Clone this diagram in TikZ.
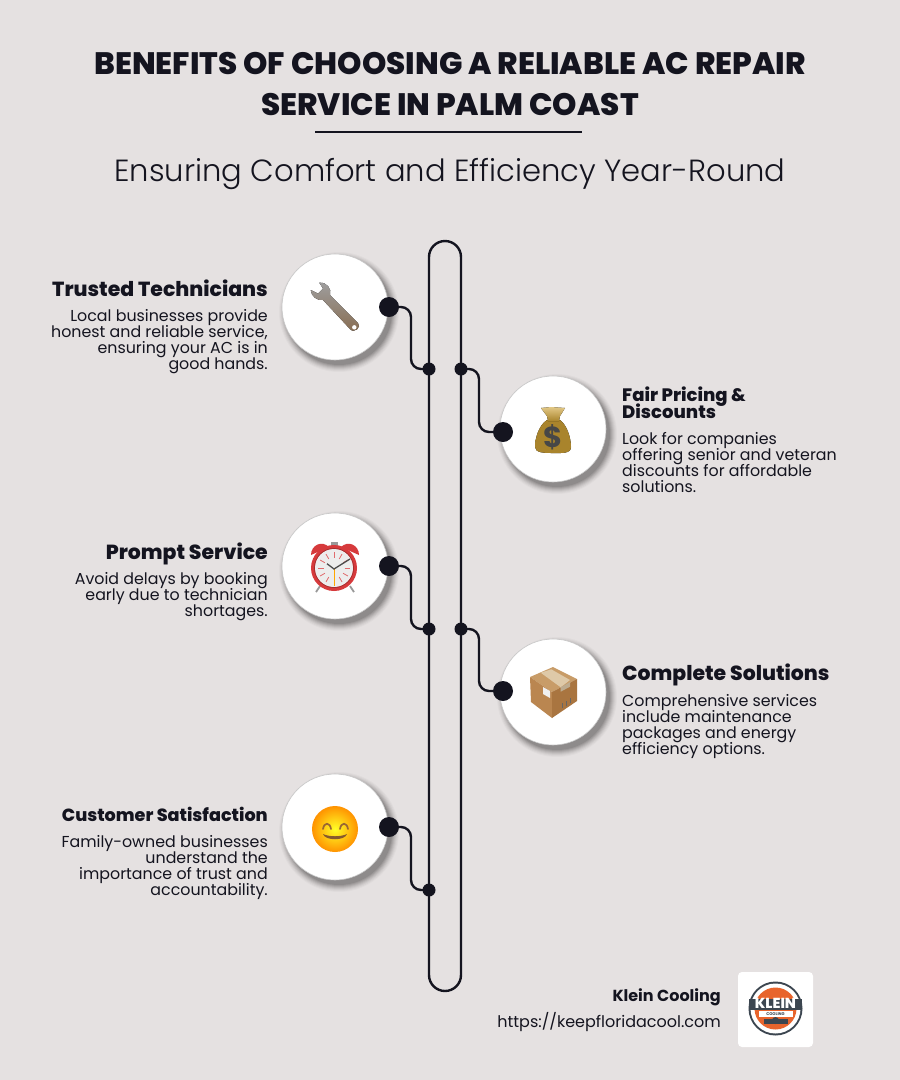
\documentclass[tikz,border=0pt]{standalone}
\usepackage{fontspec}
\usetikzlibrary{positioning}
\setmainfont{Poppins}
\newfontfamily\heavyfont{Poppins ExtraBold}
\newfontfamily\lightfont{Poppins Light}
\definecolor{paper}{HTML}{E5E1E1}
\definecolor{ink}{HTML}{14141F}
\definecolor{logoorange}{HTML}{E8642C}
\definecolor{logodark}{HTML}{3C4650}
\definecolor{bagmid}{HTML}{D6B052}
\definecolor{bagedge}{HTML}{A9842C}
\definecolor{clockred}{HTML}{D63A3C}
\definecolor{boxtop}{HTML}{C89C68}
\definecolor{boxleft}{HTML}{BA8650}
\definecolor{boxright}{HTML}{A97540}
\definecolor{boxtape}{HTML}{DEC9A8}

% keeps the line pitch even
\newcommand{\tightlines}{\lineskiplimit=-100pt\relax}

% white disc with a soft shadow under it
\newcommand{\iconbase}[2]{
    \foreach \r/\o in {60/.025,59/.03,58/.04,57/.05,56/.06,55/.07,54/.08,53/.09}
        \fill[black,opacity=\o] ([shift={(4,5)}]#2) circle (\r);
    \node (#1) [bubble] at (#2) {};
}

\begin{document}
\begin{tikzpicture}[x=1pt,y=-1pt,
    bubble/.style={circle,fill=white,draw=black!22,line width=.6pt,minimum size=106pt,inner sep=0pt},
    hub/.style={circle,fill=ink,minimum size=20pt,inner sep=0pt},
    knot/.style={circle,fill=ink,minimum size=13pt,inner sep=0pt},
    wire/.style={draw=ink,line width=2.4pt,rounded corners=10pt},
    headline/.style={font=\heavyfont\fontsize{20.4}{17}\selectfont\tightlines,text=ink,inner sep=0pt},
    blurb/.style={font=\fontsize{15.85}{16}\selectfont\tightlines,text=ink,inner sep=0pt},
    lefttext/.style={anchor=north east,align=right},
    righttext/.style={anchor=north west,align=left}]

    \fill[paper] (0,0) rectangle (900,1080);
    \useasboundingbox (0,0) rectangle (900,1080);

    % title
    \node (title) [font=\heavyfont\fontsize{31}{41}\selectfont,text=ink,align=center,inner sep=0pt,anchor=north]
        at (450,52) {BENEFITS OF CHOOSING A RELIABLE AC REPAIR\\SERVICE IN PALM COAST};
    \coordinate (ruleleft) at (315,132);
    \coordinate (ruleright) at (582,132);
    \draw[ink,line width=2pt] (ruleleft) -- (ruleright);
    \node (subtitle) [font=\lightfont\fontsize{30.6}{36}\selectfont,text=ink,inner sep=0pt] at (450,174)
        {Ensuring Comfort and Efficiency Year-Round};

    % rail
    \node (rail) [draw=ink,line width=2.4pt,rounded corners=16pt,minimum width=32pt,minimum height=750pt,inner sep=0pt] at (445,616) {};

    % discs
    \iconbase{tech}{335,307}
    \iconbase{price}{553,429}
    \iconbase{prompt}{335,566}
    \iconbase{solve}{553,692}
    \iconbase{happy}{335,827}

    % dots
    \node (techhub) [hub] at (389,307) {};
    \node (pricehub) [hub] at (503,432) {};
    \node (prompthub) [hub] at (389,566) {};
    \node (solvehub) [hub] at (503,691) {};
    \node (happyhub) [hub] at (389,827) {};
    \node (techknot) [knot] at (429,369) {};
    \node (priceknot) [knot] at (461,369) {};
    \node (promptknot) [knot] at (429,629) {};
    \node (solveknot) [knot] at (461,629) {};
    \node (happyknot) [knot] at (429,890) {};

    \coordinate (lbend) at (411,0);
    \coordinate (rbend) at (479,0);
    \draw[wire] (techhub.center) -- (techhub.center -| lbend) -- (techknot.center -| lbend) -- (techknot.center);
    \draw[wire] (priceknot.center) -- (priceknot.center -| rbend) -- (pricehub.center -| rbend) -- (pricehub.center);
    \draw[wire] (prompthub.center) -- (prompthub.center -| lbend) -- (promptknot.center -| lbend) -- (promptknot.center);
    \draw[wire] (solveknot.center) -- (solveknot.center -| rbend) -- (solvehub.center -| rbend) -- (solvehub.center);
    \draw[wire] (happyhub.center) -- (happyhub.center -| lbend) -- (happyknot.center -| lbend) -- (happyknot.center);

    % left column
    \node (techhead) [headline,anchor=east] at (268,288.5) {Trusted Technicians};
    \node (techtext) [blurb,lefttext] at (268,309.5) {Local businesses provide\\honest and reliable service,\\ensuring your AC is in\\good hands.};
    \node (prompthead) [headline,anchor=east] at (268,553.5) {Prompt Service};
    \node (prompttext) [blurb,lefttext] at (268,572.5) {Avoid delays by booking\\early due to technician\\shortages.};
    \node (happyhead) [headline,anchor=east,font=\heavyfont\fontsize{17.6}{17}\selectfont] at (268,814) {Customer Satisfaction};
    \node (happytext) [blurb,lefttext] at (268,835.5) {Family-owned businesses\\understand the\\importance of trust and\\accountability.};

    % right column
    \node (pricehead) [headline,righttext,font=\heavyfont\fontsize{18}{17}\selectfont\tightlines] at (622,387) {Fair Pricing \&\\Discounts};
    \node (pricetext) [blurb,righttext] at (622,432) {Look for companies\\offering senior and veteran\\discounts for affordable\\solutions.};
    \node (solvehead) [headline,anchor=west] at (622,674.5) {Complete Solutions};
    \node (solvetext) [blurb,righttext] at (622,694.5) {Comprehensive services\\include maintenance\\packages and energy\\efficiency options.};

    % wrench
    \begin{scope}[shift={(tech.center)}]
        \fill[top color=black!38,bottom color=brown!55!black!80] (-24.3,-17) .. controls (-24,-11) and (-18,-6) .. (-12,-7)
            -- (15,22) .. controls (19,27) and (27,20) .. (23,16) -- (-5,-12)
            .. controls (-3,-18) and (-8,-25) .. (-15.7,-24.3) -- (-12,-18.5) -- (-17,-13.5) -- cycle;
        \fill[white] (19.3,20.3) circle (2.2);
    \end{scope}

    % money bag
    \begin{scope}[shift={(price.center)}]
        \fill[left color=bagedge,middle color=bagmid,right color=bagedge] (-6,-9) .. controls (-14,-4) and (-18,9) .. (-18,18)
            .. controls (-18,24) and (-8,24) .. (0,24) .. controls (8,24) and (18,25) .. (18,18)
            .. controls (18,9) and (14,-4) .. (7,-9) -- cycle;
        \fill[top color=bagmid!70!white,bottom color=bagedge] (-12,-21) -- (-2,-22) -- (12,-21) -- (7,-13) -- (6,-8) -- (-5,-8) -- (-6,-13) -- cycle;
        \node (dollar) [font=\bfseries\fontsize{29}{29}\selectfont,text=black!72,inner sep=0pt] at (0,8) {\$};
    \end{scope}

    % clock
    \begin{scope}[shift={(prompt.center)}]
        \draw[black!40,line width=1.8pt] (-15,20) -- (-19,26) (15,20) -- (19,26);
        \fill[black!40] (-4,-24) rectangle (3,-19);
        \fill[clockred] (-24,-11) .. controls (-24,-21) and (-13,-26) .. (-6,-19) -- cycle;
        \fill[clockred] (24,-11) .. controls (24,-21) and (13,-26) .. (6,-19) -- cycle;
        \fill[clockred] (-1,2) circle (23);
        \draw[clockred!75!black,line width=.8pt] (-1,2) circle (19.5);
        \fill[black!7] (-1,2) circle (19);
        \foreach \a in {0,30,...,330}
            \draw[clockred!75!white,line width=.8pt] ({-1+cos(\a)*10.5},{2+sin(\a)*10.5}) -- ({-1+cos(\a)*16},{2+sin(\a)*16});
        \draw[orange!70!yellow,line width=.5pt] (-1,3) -- (-1,20);
        \draw[black!70,line width=1.3pt] (-8,-2.3) -- (-1,3) -- (15,-7);
    \end{scope}

    % box
    \begin{scope}[shift={(solve.center)}]
        \fill[boxtop] (0,-25) -- (24,-13) -- (-1,0) -- (-23,-15) -- cycle;
        \fill[boxleft] (-23,-15) -- (-1,0) -- (-1,26) -- (-22,10) -- cycle;
        \fill[boxright] (24,-13) -- (24,9) -- (-1,26) -- (-1,0) -- cycle;
        \fill[boxtape] (-12.3,-19.3) -- (-1.7,-22.7) -- (17,-12) -- (7.7,-4.7) -- cycle;
        \fill[boxtape!85!black] (7.7,-4.7) -- (17,-10) -- (17,-5.3) -- (7.7,-0.3) -- cycle;
        \fill[black!6] (-10,-5) -- (-3,-1) -- (-3,6) -- (-10,2) -- cycle;
        \draw[black!60,line width=.7pt] (9,16) -- (9,11) (13,14) -- (13,9) (17,11) -- (17,6);
    \end{scope}

    % smile
    \begin{scope}[shift={(happy.center)}]
        \shade[inner color=yellow!85!white,outer color=orange!85!yellow] (0,2) circle (23);
        \draw[brown!80!black,line width=1.7pt,line cap=round] (-12,2) .. controls (-11,-5) and (-5,-5) .. (-4,2);
        \draw[brown!80!black,line width=1.7pt,line cap=round] (5,2) .. controls (6,-5) and (12,-5) .. (13,2);
        \fill[brown!70!black] (-12,7) .. controls (-6,10) and (6,10) .. (12,7) .. controls (10,14) and (-10,14) .. (-12,7) -- cycle;
    \end{scope}

    % footer
    \node (brand) [font=\bfseries\fontsize{16}{16}\selectfont,text=ink,anchor=east,inner sep=0pt] at (721,997) {Klein Cooling};
    \node (link) [font=\fontsize{16}{16}\selectfont,text=ink,anchor=east,inner sep=0pt] at (721,1022) {https://keepfloridacool.com};

    % logo
    \node (logo) [fill=white,rounded corners=4pt,minimum size=75pt,inner sep=0pt] at (775.5,1009.5) {};
    \begin{scope}[shift={(logo.center)}]
        \fill[logodark] (0,-1) circle (27);
        \fill[white] (0,-1) circle (25);
        \fill[logoorange] (0,-1) circle (21);
        \fill[white] (-17,1) rectangle (17,7);
        \fill[logodark] (-12,9) rectangle (12,14);
        \fill[logodark] (-27,-11) rectangle (26,0);
        \fill[logodark] (0,11) circle (3.5);
        \node (logoname) [font=\heavyfont\fontsize{14.5}{14}\selectfont,text=white,inner sep=0pt,text height=9pt,text depth=0pt] at (0,-5.5) {KLEIN};
        \node (logosub) [font=\bfseries\fontsize{4}{4}\selectfont,text=logodark,inner sep=0pt,text height=3pt,text depth=0pt] at (0,4) {COOLING};
    \end{scope}
\end{tikzpicture}
\end{document}
